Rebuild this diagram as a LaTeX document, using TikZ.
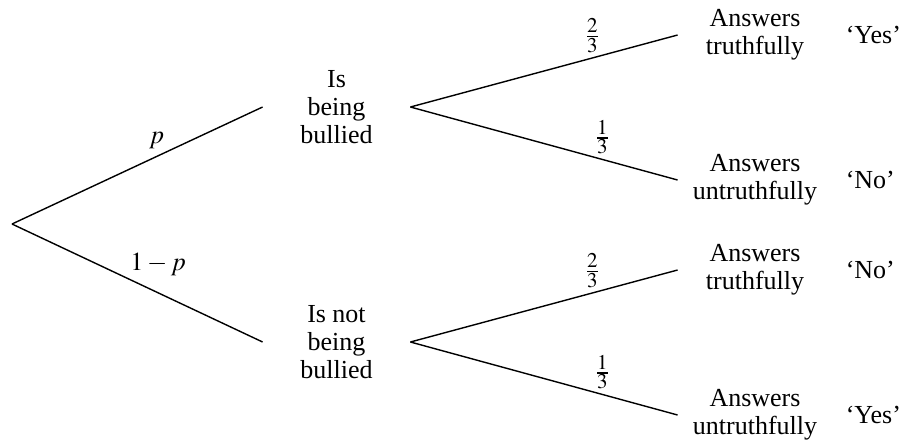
\documentclass[tikz,border=0pt]{standalone}
\usepackage{mathptmx}
\usepackage{fontspec}
\setmainfont{Liberation Serif}
\DeclareMathSizes{13}{13}{10.5}{8}
\usetikzlibrary{positioning}
\tikzset{every picture/.style={font=\fontsize{13}{14}\selectfont}}
\tikzset{
  branch/.style={line width=0.7pt},
  mid/.style={inner sep=0pt, align=center, minimum width=73.5pt},
  leaf/.style={inner sep=0pt, align=center, minimum width=77pt},
  reply/.style={inner sep=0pt}
}
\newcommand{\third}[1]{$\frac{#1}{3}$}

\begin{document}
\begin{tikzpicture}[x=0.5pt, y=-0.5pt, node distance=0pt]
  \useasboundingbox (0,0) rectangle (901,441);
  \coordinate (root) at (12,224);

  \node [mid] (bullied) at (336.5,107) {Is\\being\\bullied};
  \node [mid] (notbullied) at (336.5,342) {Is not\\being\\bullied};

  \node [leaf] (true1) at (755,35) {Answers\\truthfully};
  \node [leaf] (false1) at (755,180) {Answers\\untruthfully};
  \node [leaf] (true2) at (755,270) {Answers\\truthfully};
  \node [leaf] (false2) at (755,415) {Answers\\untruthfully};

  \node [reply, right=6.5pt of true1] (yes1) {`Yes'};
  \node [reply, right=6.5pt of false1] (no1) {`No'};
  \node [reply, right=6.5pt of true2] (no2) {`No'};
  \node [reply, right=6.5pt of false2] (yes2) {`Yes'};

  \begin{scope}[every node/.style={inner sep=1pt}]
    \draw [branch] (root) -- node [pos=0.618, anchor=south east] {$p$} (bullied.west);
    \draw [branch] (root) -- node [pos=0.462, anchor=south west] {$1-p$} (notbullied.west);
    \foreach \from/\up/\down in {bullied/true1/false1, notbullied/true2/false2} {
      \draw [branch] (\from.east) -- node [pos=0.72, anchor=south east] {\third{2}} (\up.west);
      \draw [branch] (\from.east) -- node [pos=0.68, anchor=south west] {\third{1}} (\down.west);
    }
  \end{scope}
\end{tikzpicture}
\end{document}
